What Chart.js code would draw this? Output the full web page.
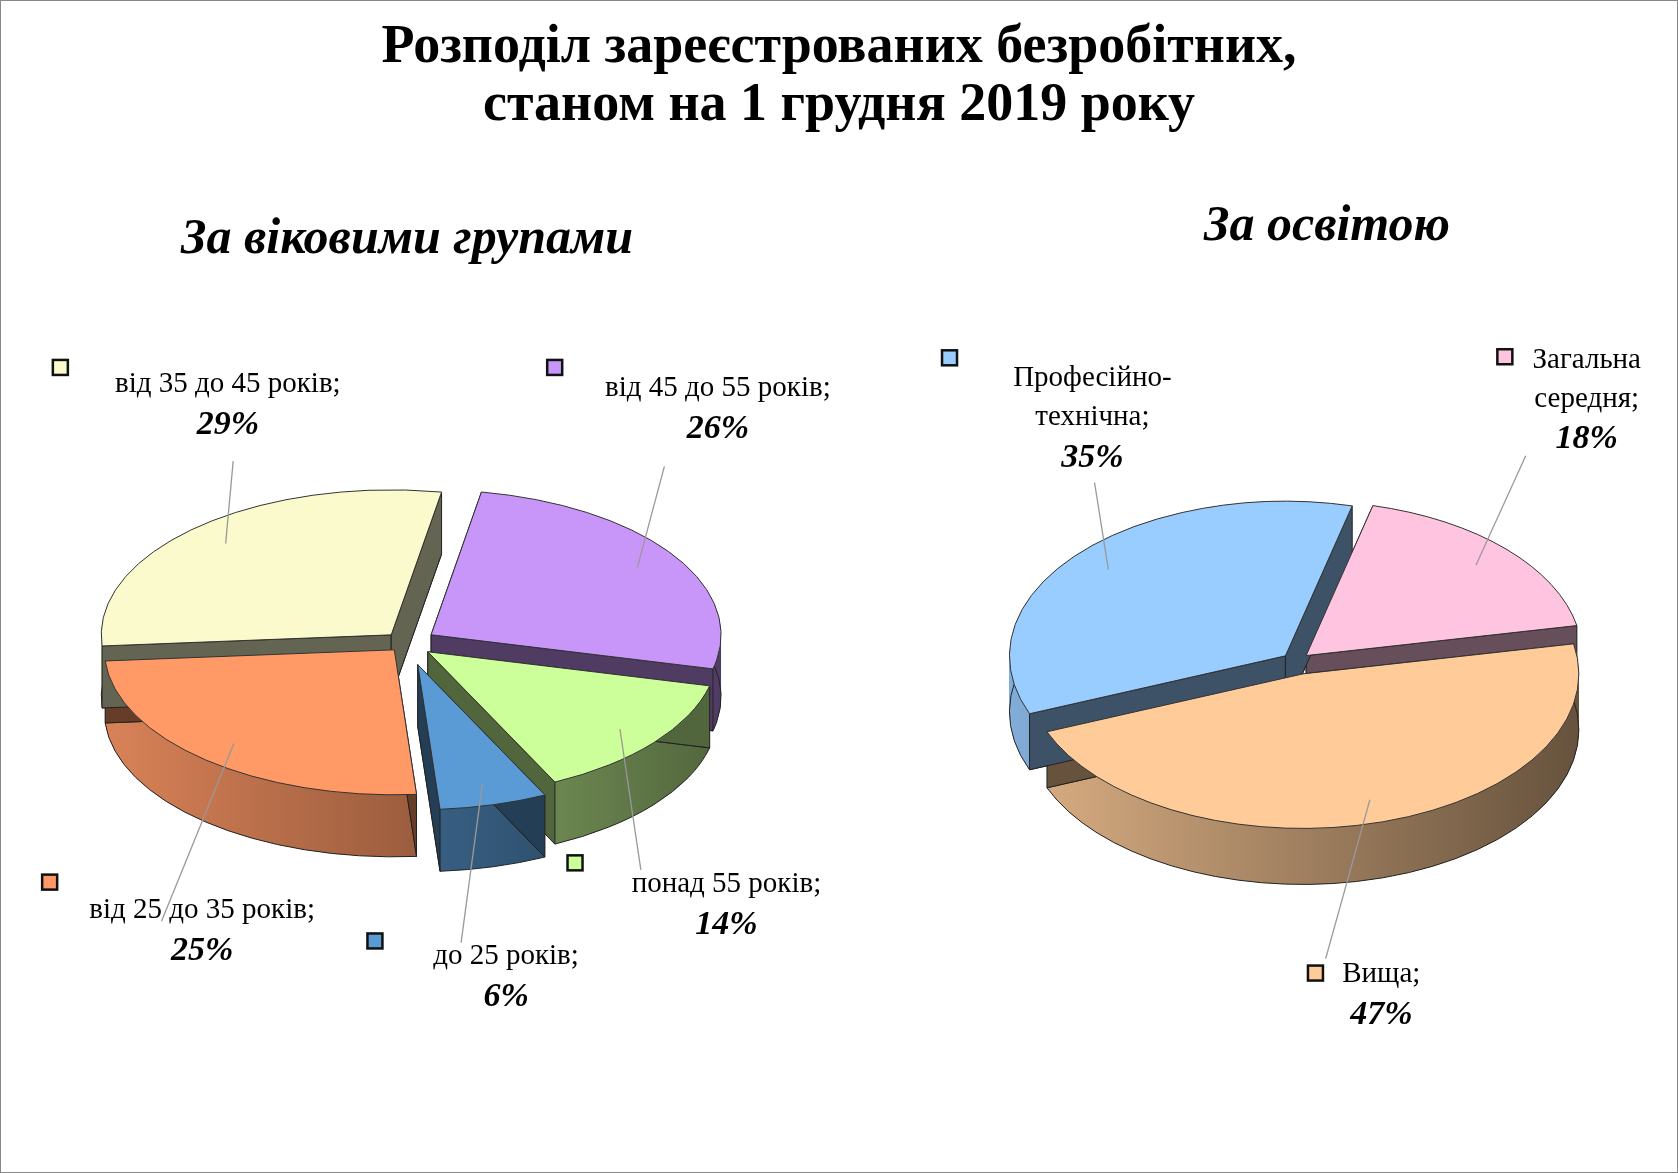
<!DOCTYPE html>
<html><head><meta charset="utf-8">
<script src="https://cdn.jsdelivr.net/npm/chart.js@4.4.1/dist/chart.umd.min.js"></script>
<style>
html,body{margin:0;padding:0;background:#fff;}
#page{position:relative;width:1676px;height:1171px;border:1px solid #888;overflow:hidden;font-family:"Liberation Serif","Times New Roman",serif;}
.t{position:absolute;left:0;width:100%;text-align:center;font-weight:bold;font-size:54px;line-height:58px;}
.sub{position:absolute;font-weight:bold;font-style:italic;font-size:50px;}
canvas{position:absolute;top:0;}
</style></head><body>
<div id="page">
<div class="t" style="top:14px">Розподіл зареєстрованих безробітних,<br>станом на 1 грудня 2019 року</div>
<div class="sub" style="left:180px;top:206px">За віковими групами</div>
<div class="sub" style="left:1203px;top:193px">За освітою</div>
<div style="position:absolute;left:0;top:0;width:839px;height:1173px"><canvas id="c1"></canvas></div>
<div style="position:absolute;left:839px;top:0;width:839px;height:1173px"><canvas id="c2"></canvas></div>
</div>
<script>
const ageCategories = ["від 45 до 55 років;", "понад 55 років;", "до 25 років;", "від 25 до 35 років;", "від 35 до 45 років;"];
const ageValues = [26, 14, 6, 25, 29];
const eduCategories = ["Загальна|середня;", "Вища;", "Професійно-|технічна;"];
const eduValues = [18, 47, 35];

const S = 1.07;
function hex(c){return [parseInt(c.slice(1,3),16),parseInt(c.slice(3,5),16),parseInt(c.slice(5,7),16)];}
function shade(c,f){const v=hex(c);return 'rgb('+v.map(x=>Math.round(x*f)).join(',')+')';}

const pie3d = {
  id:'pie3d',
  beforeDatasetsDraw(chart){
    const o = chart.options.plugins.pie3d;
    const ctx = chart.ctx, meta = chart.getDatasetMeta(0);
    const ds = chart.data.datasets[0];
    const k=o.k, depth=o.depth;
    const geo = meta.data.map((el,i)=>{
      const mid=(el.startAngle+el.endAngle)/2, off=o.offsets[i];
      return {cx:el.x+Math.cos(mid)*off, cy:el.y+Math.sin(mid)*off*k, R:el.outerRadius, a0:el.startAngle, a1:el.endAngle, mid, col:ds.backgroundColor[i]};
    });
    const path=(g,dy)=>{ctx.beginPath();ctx.moveTo(g.cx,g.cy+dy);ctx.ellipse(g.cx,g.cy+dy,g.R,g.R*k,0,g.a0,g.a1);ctx.closePath();};
    ctx.save();
    geo.forEach(g=>{
      const gr=ctx.createLinearGradient(g.cx-g.R,0,g.cx+g.R,0);
      gr.addColorStop(0,shade(g.col,0.85));gr.addColorStop(1,shade(g.col,0.4));
      for(let d=depth;d>0;d--){path(g,d);ctx.fillStyle=gr;ctx.fill();}
      path(g,depth);ctx.strokeStyle='#222';ctx.lineWidth=1;ctx.stroke();
    });
    geo.forEach(g=>{
      [g.a0,g.a1].forEach(a=>{
        const x=g.cx+Math.cos(a)*g.R, y=g.cy+Math.sin(a)*g.R*k;
        ctx.beginPath();ctx.moveTo(g.cx,g.cy);ctx.lineTo(x,y);ctx.lineTo(x,y+depth);ctx.lineTo(g.cx,g.cy+depth);ctx.closePath();
        ctx.fillStyle=shade(g.col,0.4);ctx.fill();ctx.strokeStyle='#222';ctx.stroke();
      });
    });
    geo.forEach(g=>{path(g,0);ctx.fillStyle=g.col;ctx.fill();ctx.strokeStyle='#333';ctx.lineWidth=1;ctx.stroke();});
    const ox=chart.canvas.parentNode.offsetLeft;
    geo.forEach((g,i)=>{
      const L=o.labels[i];
      const ex=g.cx+Math.cos(g.mid)*g.R*0.85, ey=g.cy+Math.sin(g.mid)*g.R*k*0.85;
      ctx.strokeStyle='#999';ctx.lineWidth=1.3;ctx.beginPath();ctx.moveTo(ex,ey);ctx.lineTo(L.lx*S-ox,L.ly*S);ctx.stroke();
      const lines=chart.data.labels[i].split('|');
      ctx.fillStyle='#000';ctx.textAlign='center';ctx.textBaseline='middle';
      ctx.font='29px "Liberation Serif"';
      lines.forEach((t,j)=>ctx.fillText(t,L.tx*S-ox,(L.ty+j*36)*S));
      ctx.font='bold italic 34px "Liberation Serif"';
      ctx.fillText(ds.data[i]+'%',L.tx*S-ox,(L.ty+lines.length*36+2)*S);
      ctx.fillStyle=g.col;ctx.fillRect(L.sx*S-ox-7,L.sy*S-7,15,15);
      ctx.strokeStyle='#111';ctx.lineWidth=2.5;ctx.strokeRect(L.sx*S-ox-7,L.sy*S-7,15,15);
    });
    ctx.restore();
    return false;
  }
};

function make(id,labels,values,colors,rot,pad,plug){
  return new Chart(document.getElementById(id),{
    type:'pie',
    data:{labels:labels,datasets:[{data:values,backgroundColor:colors,borderWidth:0}]},
    options:{responsive:true,maintainAspectRatio:false,animation:false,rotation:rot,
      layout:{padding:pad},
      plugins:{legend:{display:false},tooltip:{enabled:false},pie3d:plug}},
    plugins:[pie3d]
  });
}
make('c1',ageCategories,ageValues,['#C896F8','#CCFF99','#5B9BD5','#FF9966','#FAFACC'],10,
  {left:115,right:144,top:352,bottom:241},
  {k:0.5,depth:62,offsets:[30,28,45,18,22],labels:[
    {sx:517,sy:342,tx:670,ty:362,lx:620,ly:435},
    {sx:536,sy:805,tx:678,ty:826,lx:598,ly:812},
    {sx:349,sy:878,tx:472,ty:893,lx:430,ly:880},
    {sx:45,sy:823,tx:188,ty:850,lx:150,ly:860},
    {sx:55,sy:342,tx:212,ty:358,lx:217,ly:430}]});
make('c2',eduCategories,eduValues,['#FFC4E0','#FFCC99','#99CCFF'],14,
  {left:180,right:107,top:384,bottom:237},
  {k:0.56,depth:56,offsets:[14,24,14],labels:[
    {sx:1405,sy:332,tx:1482,ty:336,lx:1425,ly:425},
    {sx:1228,sy:908,tx:1290,ty:910,lx:1238,ly:895},
    {sx:886,sy:333,tx:1020,ty:353,lx:1022,ly:450}]});
</script>
</body></html>
